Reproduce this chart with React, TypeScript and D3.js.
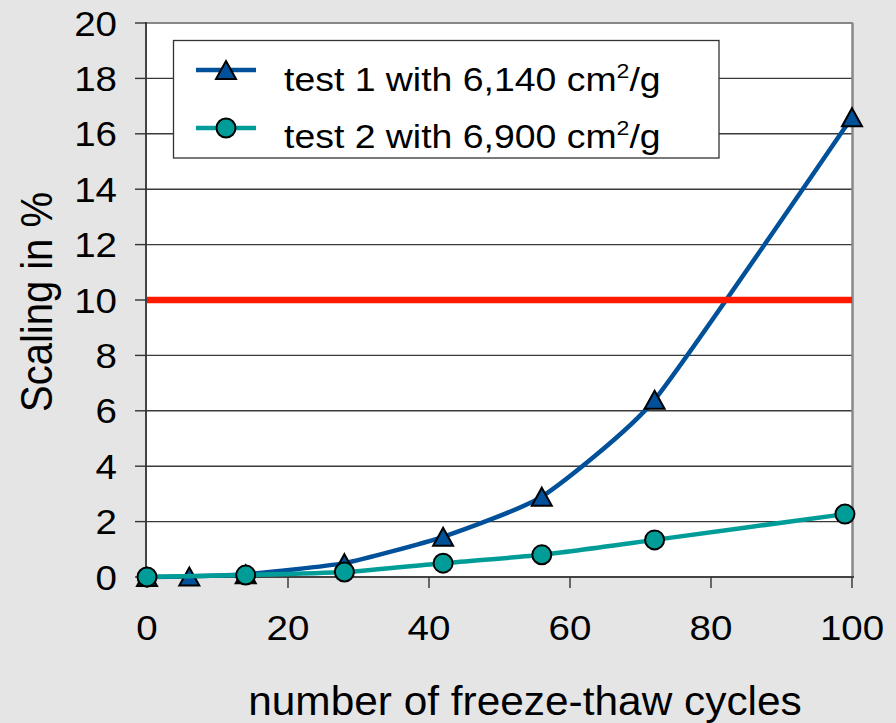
import React from "react";
import * as d3 from "d3";

const xTicks = [0, 20, 40, 60, 80, 100];
const yTicks = [0, 2, 4, 6, 8, 10, 12, 14, 16, 18, 20];

const test1X = [0, 6, 14, 28, 42, 56, 72, 100];
const test1Y = [0, 0.02, 0.1, 0.5, 1.45, 2.9, 6.4, 16.6];
const test2X = [0, 14, 28, 42, 56, 72, 99];
const test2Y = [0, 0.07, 0.18, 0.5, 0.8, 1.34, 2.27];
const limitY = 10;

const seriesNames = ["test 1 with 6,140 cm", "test 2 with 6,900 cm"];
const xTitle = "number of freeze-thaw cycles";
const yTitle = "Scaling in %";

const W = 896, H = 723;
const L = 147, R = 852, T = 23, B = 577;
const FONT = "'Liberation Sans', Arial, Helvetica, sans-serif";
const BLUE = "#00509a";
const TEAL = "#009d98";
const SX = 1.1;

function triPath(cx: number, cy: number) {
  return `M${cx},${cy - 9}L${cx + 10},${cy + 9}L${cx - 10},${cy + 9}Z`;
}

export default function App() {
  const x = d3.scaleLinear().domain([0, 100]).range([L, R]);
  const y = d3.scaleLinear().domain([0, 20]).range([B, T]);
  const line = d3
    .line<[number, number]>()
    .x((d) => x(d[0]))
    .y((d) => y(d[1]))
    .curve(d3.curveCardinal.tension(0.5));
  const d1: [number, number][] = test1X.map((v, i) => [v, test1Y[i]]);
  const d2: [number, number][] = test2X.map((v, i) => [v, test2Y[i]]);

  return (
    <svg
      width={W}
      height={H}
      style={{ position: "absolute", left: 0, top: 0 }}
      fontFamily={FONT}
    >
      <rect x={0} y={0} width={W} height={H} fill="#e5e5e5" />
      <rect x={L} y={T} width={R - L} height={B - T} fill="#ffffff" />
      {yTicks.slice(1, -1).map((t) => (
        <line key={"g" + t} x1={L} x2={R} y1={y(t)} y2={y(t)} stroke="#3a3a3a" strokeWidth={1.4} />
      ))}
      <line x1={L} x2={R + 1} y1={T} y2={T} stroke="#888" strokeWidth={2} />
      <line x1={R + 0.5} x2={R + 0.5} y1={T} y2={B} stroke="#888" strokeWidth={2.5} />
      <line x1={L - 1} x2={L - 1} y1={T - 1} y2={B + 1} stroke="#444" strokeWidth={2} />
      <line x1={L - 1} x2={R + 2} y1={B} y2={B} stroke="#444" strokeWidth={2} />
      {yTicks.map((t) => (
        <line key={"yt" + t} x1={L - 12} x2={L} y1={y(t)} y2={y(t)} stroke="#333" strokeWidth={1.4} />
      ))}
      {xTicks.map((t) => (
        <line key={"xt" + t} x1={x(t)} x2={x(t)} y1={B} y2={B + 11} stroke="#333" strokeWidth={1.4} />
      ))}
      {yTicks.map((t) => (
        <g key={"yl" + t} transform={`translate(117,${y(t) + 12.5}) scale(${SX},1)`}>
          <text textAnchor="end" fontSize={35} fill="#000">
            {t}
          </text>
        </g>
      ))}
      {xTicks.map((t) => (
        <g key={"xl" + t} transform={`translate(${x(t)},640) scale(${SX},1)`}>
          <text textAnchor="middle" fontSize={35} fill="#000">
            {t}
          </text>
        </g>
      ))}
      <g transform={`translate(525,715) scale(1.06,1)`}>
        <text textAnchor="middle" fontSize={40} fill="#000">
          {xTitle}
        </text>
      </g>
      <g transform={`translate(52,302) rotate(-90) scale(1,1.1)`}>
        <text textAnchor="middle" fontSize={40} fill="#000">
          {yTitle}
        </text>
      </g>

      <path d={line(d1) || ""} fill="none" stroke={BLUE} strokeWidth={4.5} />
      {d1.map((d, i) => (
        <path key={"m1" + i} d={triPath(x(d[0]), y(d[1]))} fill={BLUE} stroke="#000" strokeWidth={2} />
      ))}
      <path d={line(d2) || ""} fill="none" stroke={TEAL} strokeWidth={4.5} />
      {d2.map((d, i) => (
        <circle key={"m2" + i} cx={x(d[0])} cy={y(d[1])} r={9.5} fill={TEAL} stroke="#000" strokeWidth={2} />
      ))}
      <line x1={L} x2={R} y1={y(limitY)} y2={y(limitY)} stroke="#ff1a00" strokeWidth={6.5} />

      <rect x={173.5} y={40.5} width={545.5} height={117.5} fill="#fff" stroke="#333" strokeWidth={1.3} />
      <line x1={196} x2={256} y1={70} y2={70} stroke={BLUE} strokeWidth={4.5} />
      <path d={triPath(226, 70)} fill={BLUE} stroke="#000" strokeWidth={2} />
      <line x1={196} x2={256} y1={128} y2={128} stroke={TEAL} strokeWidth={4.5} />
      <circle cx={226} cy={128} r={9.5} fill={TEAL} stroke="#000" strokeWidth={2} />
      {seriesNames.map((s, i) => (
        <g key={"lg" + i} transform={`translate(284,${i === 0 ? 91 : 148}) scale(1.1,1)`}>
          <text fontSize={34} fill="#000">
            {s}
            <tspan fontSize={21} dy={-13}>2</tspan>
            <tspan dy={13}>/g</tspan>
          </text>
        </g>
      ))}
    </svg>
  );
}
